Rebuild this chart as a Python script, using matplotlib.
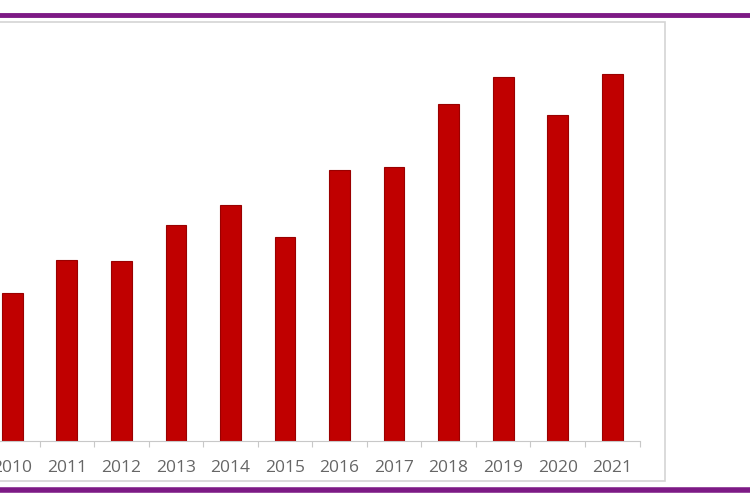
import matplotlib.pyplot as plt
from matplotlib.patches import Rectangle
from matplotlib.lines import Line2D

# data (no y scale shown, relative heights)
years = ["2010", "2011", "2012", "2013", "2014", "2015",
         "2016", "2017", "2018", "2019", "2020", "2021"]
values = [14.8, 18.1, 18.0, 21.6, 23.6, 20.4, 27.1, 27.4, 33.7, 36.4, 32.6, 36.7]

fig = plt.figure(figsize=(7.5, 5), dpi=100)
fig.patch.set_facecolor("white")

# outer grey chart box (left edge cut off)
fig.add_artist(Rectangle((-0.05, 19 / 500), 665 / 750 + 0.05, (481 - 22) / 500,
                         transform=fig.transFigure, fill=False,
                         edgecolor="#d4d4d4", linewidth=1.2))

# purple rules top and bottom
fig.add_artist(Line2D([0, 1], [1 - 15 / 500, 1 - 15 / 500], transform=fig.transFigure,
                      color="#7d1a85", linewidth=3.5))
fig.add_artist(Line2D([0, 1], [1 - 490 / 500, 1 - 490 / 500], transform=fig.transFigure,
                      color="#7d1a85", linewidth=4))

ax = fig.add_axes([-15 / 750, 59 / 500, 654.5 / 750, 419 / 500])
ax.set_facecolor("none")

x = list(range(len(years)))
ax.bar(x, values, width=0.38, color="#c00000", edgecolor="#9a0000", linewidth=0.8)

ax.set_xlim(-0.5, len(years) - 0.5)
ax.set_ylim(0, 41.9)
ax.set_yticks([])

ax.set_xticks(x)
ax.set_xticklabels(years, fontsize=12.5, color="#666666", family="Open Sans")
ax.tick_params(axis="x", which="major", length=0, pad=14)
ax.set_xticks([i + 0.5 for i in x], minor=True)
ax.tick_params(axis="x", which="minor", length=4, color="#c8c8c8", width=0.8)

for s in ["top", "right", "left"]:
    ax.spines[s].set_visible(False)
ax.spines["bottom"].set_color("#c8c8c8")
ax.spines["bottom"].set_linewidth(0.8)

fig.savefig("out.png", dpi=100)
